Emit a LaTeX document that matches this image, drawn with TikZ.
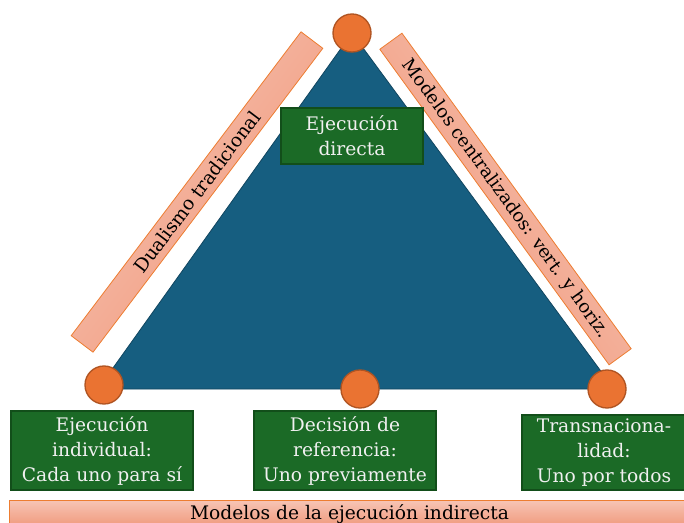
\documentclass[tikz,border=0pt]{standalone}
\usepackage{fontspec}
\setmainfont{DejaVu Serif}
\usetikzlibrary{positioning}

\definecolor{TriBlue}{RGB}{22,94,128}
\definecolor{DotOrange}{RGB}{234,115,50}
\definecolor{DotRim}{RGB}{176,84,34}
\definecolor{BoxGreen}{RGB}{27,106,38}
\definecolor{BoxRim}{RGB}{18,78,26}
\definecolor{BarLight}{RGB}{247,196,180}
\definecolor{BarDark}{RGB}{239,150,120}
\definecolor{BarRim}{RGB}{237,125,49}

\begin{document}
\begin{tikzpicture}
      [
        x=0.75pt, y=-0.75pt,
        Dot/.style={circle, draw=DotRim, line width=1pt, fill=DotOrange, minimum size=28.5pt, inner sep=0pt},
        GreenBox/.style={draw=BoxRim, line width=1pt, fill=BoxGreen, text=white!94!black, align=center, inner sep=0pt, font=\fontsize{14}{18.75}\selectfont},
        SideBar/.style={draw=BarRim, line width=0.6pt, top color=BarLight, bottom color=BarDark, inner sep=0pt, minimum height=20.5pt, font=\fontsize{14}{17}\selectfont},
      ]

      \useasboundingbox (0,0) rectangle (684,523);

      % triangle
      \coordinate (top) at (352,33);
      \coordinate (left) at (98,389);
      \coordinate (right) at (614,389);
      \fill [TriBlue] (top) -- (left) -- (right) -- cycle;
      \draw [TriBlue!75!black, line width=0.6pt] (top) -- (left) -- (right) -- cycle;

      \node [Dot] (d0) at (352,33) {};
      \node [Dot] (d1) at (104,385) {};
      \node [Dot] (d2) at (360,389) {};
      \node [Dot] (d3) at (607,389) {};

      \node [SideBar, shading angle=52.9, rotate=52.9, minimum width=285.75pt] (dual) at (197,192) {Dualismo tradicional};
      \node [SideBar, shading angle=-54, rotate=-54, minimum width=292.5pt, font=\fontsize{13.6}{17}\selectfont] (central) at (505.5,199) {Modelos centralizados: vert. y horiz.};

      \node [GreenBox, minimum width=106.5pt, minimum height=42pt] (direct) at (352,136) {Ejecución\\directa};
      \node [GreenBox, minimum width=136.5pt, minimum height=59.25pt] (indiv) at (102,450.5) {Ejecución\\individual:\\Cada uno para sí};
      \node [GreenBox, minimum width=136.5pt, minimum height=59.25pt] (refer) at (345,450.5) {Decisión de\\referencia:\\Uno previamente};
      \node [GreenBox, minimum width=123pt, minimum height=56.25pt] (trans) at (604,452.5) {Transnaciona-\\lidad:\\Uno por todos};

      \node [SideBar, minimum width=510.75pt, minimum height=21pt] (indirect) at (349.5,514.5) {Modelos de la ejecución indirecta};
    \end{tikzpicture}
\end{document}
